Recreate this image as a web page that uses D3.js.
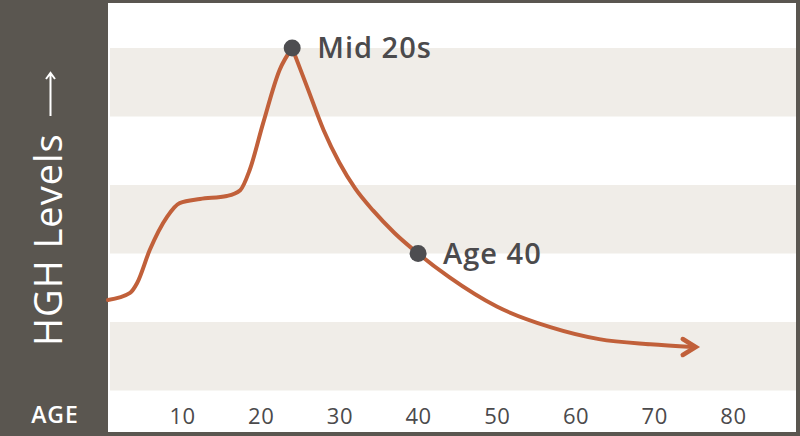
<!DOCTYPE html>
<html>
<head>
<meta charset="utf-8">
<script src="https://cdn.jsdelivr.net/npm/d3@7"></script>
<style>
  body { margin: 0; background: #fff; }
  svg { display: block; }
  text { font-family: "Open Sans", "Lato", sans-serif; }
</style>
</head>
<body>
<div id="chart"></div>
<script>
// age (years) and relative HGH level
const ages = [0.6, 3.4, 4.3, 5.9, 8.1, 9.7, 12.3, 15.7, 17.4, 18.6, 20.3, 22.4, 24,
              26, 28, 30, 32, 34.3, 37, 40, 44, 50, 56.8, 63, 69.5, 74.9];
const levels = [26.4, 28.5, 31.4, 41, 50.7, 54.7, 55.9, 56.8, 58.5, 64.4, 78, 93.6, 100,
                88, 76, 66.5, 59, 52.5, 46, 40, 33, 24.5, 18.5, 15, 13.5, 12.7];
const tickAges = [10, 20, 30, 40, 50, 60, 70, 80];
const bandLevels = [0, 40, 80];          // lower edge of each shaded band
const markers = [{age: 24, level: 100, label: "Mid 20s"}, {age: 40, level: 40, label: "Age 40"}];

const W = 800, H = 436;
const panelW = 108, border = 4;

const svg = d3.select("#chart").append("svg")
    .attr("width", W)
    .attr("height", H);

// outer frame + left panel
svg.append("rect").attr("width", W).attr("height", H).attr("fill", "#5a5650");
svg.append("rect")
    .attr("x", panelW).attr("y", 3)
    .attr("width", W - panelW - border).attr("height", H - 3 - border)
    .attr("fill", "#fff");

const x = d3.scaleLinear().domain([0, 80]).range([103.3, 103.3 + 80 * 7.87]);
const y = d3.scaleLinear().domain([0, 100]).range([390.5, 48]);

// shaded bands
svg.selectAll(".band")
    .data(bandLevels)
    .enter()
    .append("rect")
    .attr("class", "band")
    .attr("x", panelW + 2)
    .attr("width", W - panelW - border - 2)
    .attr("y", d => y(d + 20))
    .attr("height", d => y(d) - y(d + 20))
    .attr("fill", "#f0ede8");

// x ticks
const xAxis = d3.axisBottom(x).tickValues(tickAges).tickSize(0).tickPadding(0);
const xg = svg.append("g")
    .attr("transform", "translate(0, 405)")
    .call(xAxis);
xg.select(".domain").remove();
xg.selectAll("text")
    .attr("dy", "0")
    .attr("y", 18.5)
    .style("font-size", "22px")
    .style("font-weight", 500)
    .style("letter-spacing", "0.5px")
    .style("font-family", "'Open Sans', sans-serif")
    .attr("fill", "#4b4a4c");

svg.append("text")
    .attr("x", 55).attr("y", 423)
    .attr("text-anchor", "middle")
    .attr("fill", "#fff")
    .style("font-size", "23px")
    .style("font-weight", 600)
    .style("letter-spacing", "1px")
    .text("AGE");

// y label
svg.append("text")
    .attr("transform", "translate(62, 346) rotate(-90)")
    .attr("fill", "#fff")
    .style("font-size", "38px")
    .style("font-weight", 500)
    .style("letter-spacing", "1px")
    .text("HGH Levels");
svg.append("path")
    .attr("d", "M50.5,116 V73 M46,79 L50.5,73 L55,79")
    .attr("fill", "none")
    .attr("stroke", "#fff")
    .attr("stroke-width", 2);

// curve, split at the peak so the top stays pointed
const data = ages.map((a, i) => ({age: a, level: levels[i]}));
const peak = d3.maxIndex(data, d => d.level);
const line = d3.line()
    .x(d => x(d.age))
    .y(d => y(d.level))
    .curve(d3.curveMonotoneX);

const curveColor = "#c1603a";
[data.slice(0, peak + 1), data.slice(peak)].forEach(seg => {
    svg.append("path")
        .attr("d", line(seg))
        .attr("fill", "none")
        .attr("stroke", curveColor)
        .attr("stroke-width", 4)
        .attr("stroke-linecap", "round")
        .attr("stroke-linejoin", "round");
});

// arrow head at the end of the curve
const last = data[data.length - 1];
const ex = x(last.age) + 3, ey = y(last.level);
svg.append("path")
    .attr("d", `M${ex - 13},${ey - 8} L${ex},${ey} L${ex - 13},${ey + 8}`)
    .attr("fill", "none")
    .attr("stroke", curveColor)
    .attr("stroke-width", 4.5)
    .attr("stroke-linecap", "round")
    .attr("stroke-linejoin", "miter");

// markers
svg.selectAll(".dot")
    .data(markers)
    .enter()
    .append("circle")
    .attr("class", "dot")
    .attr("cx", d => x(d.age))
    .attr("cy", d => y(d.level))
    .attr("r", 8.5)
    .attr("fill", "#4d4d50");

svg.selectAll(".mlabel")
    .data(markers)
    .enter()
    .append("text")
    .attr("class", "mlabel")
    .attr("x", d => x(d.age) + 25)
    .attr("y", d => y(d.level) + 10)
    .attr("fill", "#4b4a4c")
    .style("font-size", "29px")
    .style("font-weight", 600)
    .style("letter-spacing", "1px")
    .text(d => d.label);
</script>
</body>
</html>
